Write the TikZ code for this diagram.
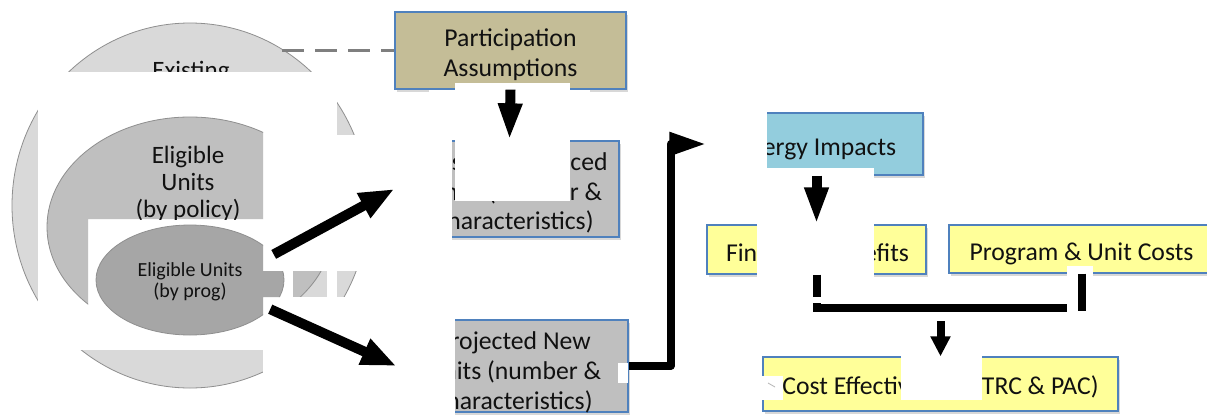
\documentclass[tikz,border=0pt]{standalone}
\usepackage{fontspec}
\setmainfont{Carlito}
\usetikzlibrary{arrows.meta,shadows,shapes.geometric}
\definecolor{bdr}{HTML}{4F81BD}
\definecolor{tanf}{HTML}{C4BD97}
\definecolor{grayf}{HTML}{BFBFBF}
\definecolor{bluef}{HTML}{93CDDD}
\definecolor{yelf}{HTML}{FFFF99}
\definecolor{ringa}{HTML}{D9D9D9}
\definecolor{ringb}{HTML}{BFBFBF}
\definecolor{ringc}{HTML}{A6A6A6}
\definecolor{ringline}{HTML}{8F8F8F}
\definecolor{dashc}{HTML}{7F7F7F}
\definecolor{inkc}{HTML}{111111}
\newcommand\bigf{\fontsize{25.7}{29.5}\selectfont}
\newcommand\projf{\fontsize{25.7}{30}\selectfont}
\newcommand\midf{\fontsize{25}{27}\selectfont}
\newcommand\smallf{\fontsize{20}{21}\selectfont}
\begin{document}
\begin{tikzpicture}[x=1pt,y=-1pt,
  box/.style={draw=bdr,line width=1.3pt,inner sep=0pt,
    drop shadow={shadow xshift=2pt,shadow yshift=-3pt,opacity=0.3}},
  lbl/.style={inner sep=0pt,align=center,font=\bigf,text=inkc},
  ring/.style={ellipse,draw=ringline,line width=0.8pt,inner sep=0pt},
  patch/.style={fill=white,draw=none},
  bigarrow/.style={line width=10pt,-{Triangle[length=35pt,width=26pt]}},
  downarrow/.style={line width=10pt,-{Triangle[length=37pt,width=22pt]}},
  elbow/.style={line width=8pt,line join=round,-{Triangle[length=37pt,width=22pt]}},
  link/.style={line width=8pt},
  smallarrow/.style={line width=8pt,-{Triangle[length=20pt,width=19pt]}},
  dashline/.style={draw=dashc,line width=2.5pt,dash pattern=on 22pt off 11pt}
]
\clip (0,0) rectangle (1207,418);
\fill[white] (0,0) rectangle (1207,418);

% left nested sets
\node[ring,fill=ringa,minimum width=356pt,minimum height=365pt] (exist) at (190,205.5) {};
\node[lbl,font=\midf,anchor=base] (existtxt) at (191,78) {Existing};
\node[ring,fill=ringb,minimum width=286pt,minimum height=220pt] (policy) at (190,227) {};
\node[lbl,font=\midf] (policytxt) at (188,183.5) {Eligible\\Units\\(by policy)};
\node[ring,fill=ringc,minimum width=188pt,minimum height=110pt] (progell) at (190,280) {};
\node[lbl,font=\smallf] (progtxt) at (190,282) {Eligible Units\\(by prog)};

% boxes
\node[box,fill=tanf,minimum width=231pt,minimum height=77pt] (part) at (510.5,50.5) {};
\node[lbl] (parttxt) at (510.5,54.5) {Participation\\Assumptions};
\node[box,fill=grayf,minimum width=219pt,minimum height=96pt] (repl) at (509.5,189) {};
\node[lbl] (repltxt) at (515,193) {Existing/Replaced\\Units (number \&\\characteristics)};
\node[box,fill=grayf,minimum width=228pt,minimum height=92pt] (proj) at (514,366) {};
\node[lbl,font=\projf] (projtxt) at (514,372) {Projected New\\Units (number \&\\characteristics)};
\node[box,fill=bluef,minimum width=213pt,minimum height=62pt] (energy) at (816.5,144) {};
\node[lbl] (energytxt) at (816.5,149) {Energy Impacts};
\node[box,fill=yelf,minimum width=219pt,minimum height=49pt] (fin) at (816.5,249.5) {};
\node[lbl] (fintxt) at (817.5,253) {Financial Benefits};
\node[box,fill=yelf,minimum width=265pt,minimum height=48pt] (costs) at (1081.5,249) {};
\node[lbl] (coststxt) at (1081.5,254) {Program \& Unit Costs};
\node[box,fill=yelf,minimum width=355pt,minimum height=54pt] (ce) at (940.5,384) {};
\node[lbl] (cetxt) at (940.5,387) {Cost Effectiveness (TRC \& PAC)};

% white patches, left
\fill[patch] (0,72) rectangle (337,108);
\fill[patch] (38,108) rectangle (337,135);
\fill[patch] (38,135) rectangle (400,271);
\fill[patch] (38,271) rectangle (293,297);
\fill[patch] (327,271) rectangle (337,297);
\fill[patch] (367,271) rectangle (400,297);
\fill[patch] (38,297) rectangle (400,350);
\fill[patch] (263,350) rectangle (400,418);
\fill[patch] (398,130) rectangle (452,245);
\fill[patch] (398,315) rectangle (455,418);

\begin{scope}
\clip (38,108) rectangle (263,219) (38,219) rectangle (88,350);
\node[ring,fill=ringb,minimum width=286pt,minimum height=220pt] (policyw) at (190,227) {};
\node[lbl,font=\midf] (policytxtw) at (188,183.5) {Eligible\\Units\\(by policy)};
\end{scope}
\begin{scope}
\clip (88,219) rectangle (263,350) (263,271) rectangle (293,297);
\node[ring,fill=ringc,minimum width=188pt,minimum height=110pt] (progw) at (190,280) {};
\node[lbl,font=\smallf] (progtxtw) at (190,282) {Eligible Units\\(by prog)};
\end{scope}

% white patches, middle and right
\fill[patch] (429,90) rectangle (590,140);
\fill[patch] (455,83) rectangle (570,201);
\fill[patch] (700,105) rectangle (767,185);
\fill[patch] (767,168) rectangle (874,225);
\fill[patch] (757,222) rectangle (874,297);
\fill[patch] (618,363) rectangle (628,383);
\fill[patch] (901,355) rectangle (982,400);
\fill[patch] (760,376) rectangle (783,400);
\draw[gray!60,line width=0.8pt] (768,383) -- (775,387);

% connectors
\draw[dashline] (part.west) ++(-112,0) -- (part.west);
\draw[bigarrow] (progell.17) -- ([xshift=-5pt]repl.west);
\draw[bigarrow] (progell.-20) -- ([xshift=-3pt]proj.west);
\draw[downarrow] (part.south) -- (repl.north);
\draw[elbow] (proj.east) -- ++(42,0) |- ([xshift=-3pt]energy.west);
\draw[downarrow] (energy.south) -- (fin.north);
\draw[link] (fin.south) -- ++(0,33) -| (costs.south);
\draw[smallarrow] ([yshift=35pt]ce.north) -- (ce.north);

\fill[patch] (805,297) rectangle (830,303);
\fill[patch] (1067,266) rectangle (1093,312);
\draw[link] (costs.south) -- ++(0,37);
\end{tikzpicture}
\end{document}
